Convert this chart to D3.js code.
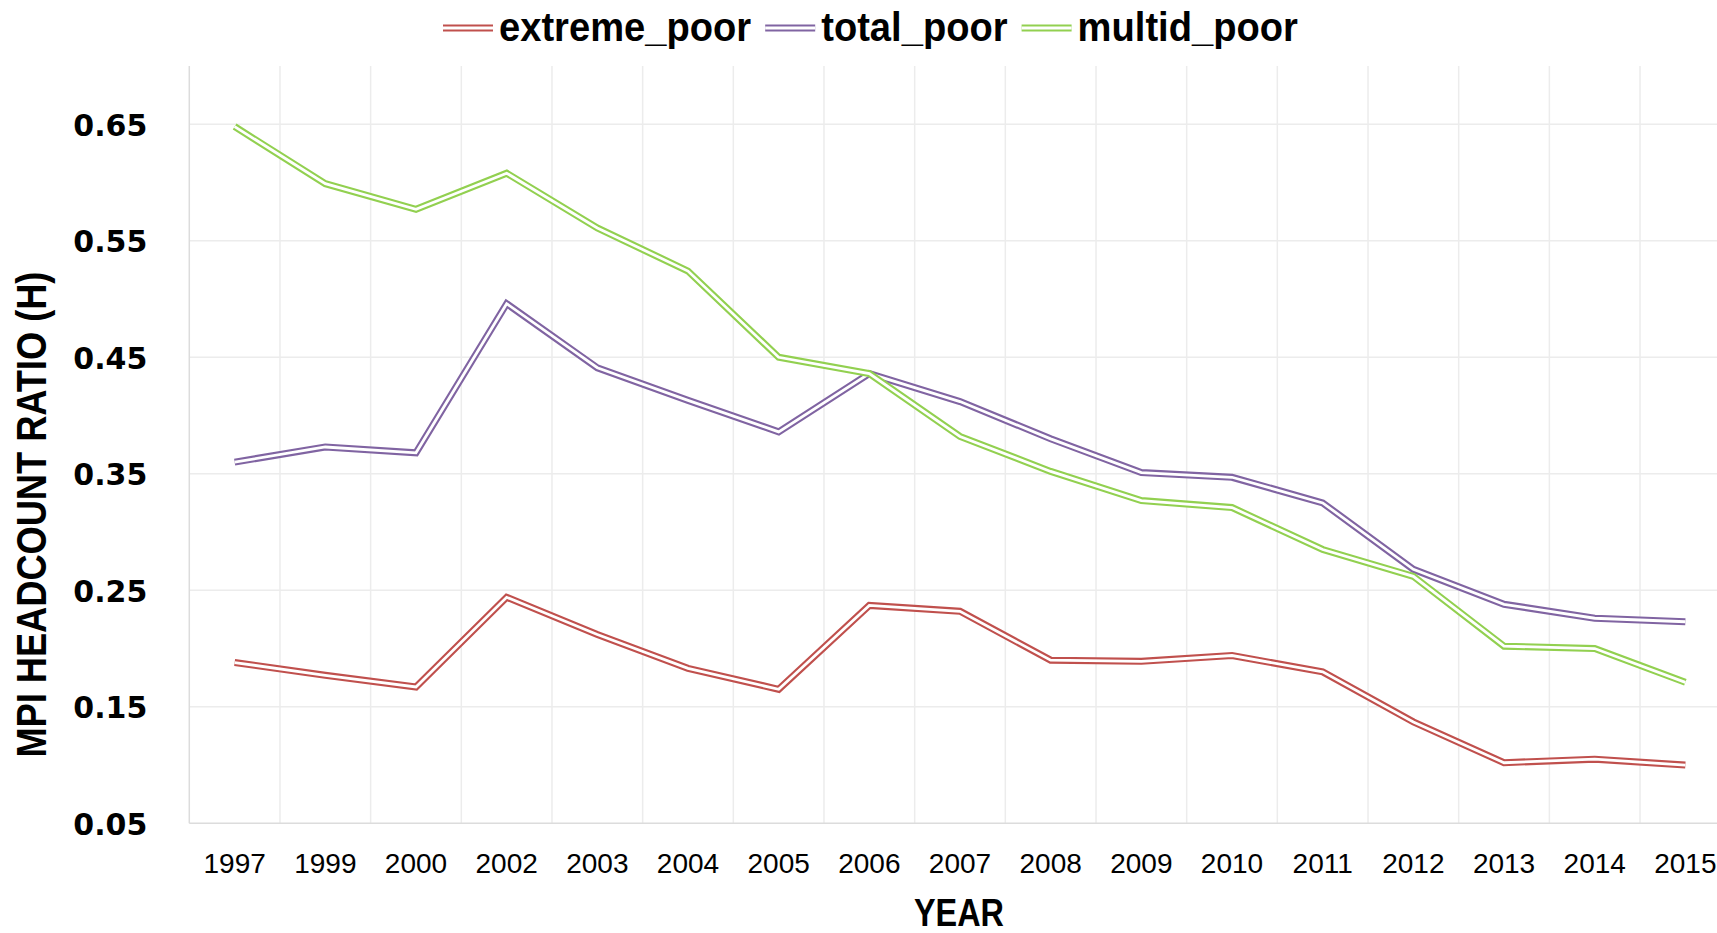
<!DOCTYPE html>
<html>
<head>
<meta charset="utf-8">
<script src="https://cdn.jsdelivr.net/npm/d3@7"></script>
<style>
  body { margin: 0; background: #fff; }
  svg { display: block; }
  .tick-x text { font-family: "Liberation Sans", Arial, sans-serif; font-size: 28px; fill: #000; }
  .tick-y text { font-family: "DejaVu Sans", Verdana, sans-serif; font-weight: bold; font-size: 30px; fill: #000; }
  .axis-title { font-family: "Liberation Sans", Arial, sans-serif; font-weight: bold; fill: #000; }
  .legend-label { font-family: "Liberation Sans", Arial, sans-serif; font-weight: bold; font-size: 41px; fill: #000; }
</style>
</head>
<body>
<svg id="chart" width="1717" height="933"></svg>
<script>
const years = ['1997','1999','2000','2002','2003','2004','2005','2006','2007',
  '2008','2009','2010','2011','2012','2013','2014','2015'];
const extremePoor = [0.188,0.177,0.167,0.244,0.212,0.183,0.165,0.237,0.232,
  0.190,0.189,0.194,0.180,0.137,0.102,0.105,0.100];
const totalPoor = [0.360,0.373,0.368,0.496,0.441,0.413,0.386,0.436,0.412,
  0.380,0.351,0.347,0.325,0.268,0.238,0.226,0.223];
const multidPoor = [0.648,0.599,0.577,0.608,0.561,0.524,0.450,0.436,0.382,
  0.352,0.327,0.321,0.285,0.262,0.202,0.200,0.171];
const yTicks = [0.05,0.15,0.25,0.35,0.45,0.55,0.65];
const seriesNames = ['extreme_poor','total_poor','multid_poor'];
const seriesColors = ['#C0504D','#8064A2','#92D050'];

const svg = d3.select('#chart');
const width = +svg.attr('width');
const height = +svg.attr('height');

const plot = { left: 189.3, right: 1730.7, top: 66, bottom: 823.3 };

const series = seriesNames.map((name, i) => ({
  name: name,
  color: seriesColors[i],
  values: [extremePoor, totalPoor, multidPoor][i].map((v, j) => ({ year: years[j], v: v }))
}));

const xScale = d3.scaleBand()
  .domain(years)
  .range([plot.left, plot.right]);

const yScale = d3.scaleLinear()
  .domain([0.05, 0.70])
  .range([plot.bottom, plot.top]);

// squeeze a text horizontally to mimic a condensed face
const condense = (sel, k) => sel.each(function() {
  const w = this.getComputedTextLength();
  d3.select(this).attr('textLength', w * k).attr('lengthAdjust', 'spacingAndGlyphs');
});

// gridlines
const grid = svg.append('g').attr('stroke', '#ececec').attr('stroke-width', 1.5);

grid.selectAll('.hgrid').data(yTicks.slice(1))
  .enter().append('line')
    .attr('x1', plot.left).attr('x2', width)
    .attr('y1', d => yScale(d)).attr('y2', d => yScale(d));

grid.selectAll('.vgrid').data(years.slice(1))
  .enter().append('line')
    .attr('x1', d => xScale(d)).attr('x2', d => xScale(d))
    .attr('y1', plot.top).attr('y2', plot.bottom);

// axis lines
svg.append('line')
  .attr('x1', plot.left).attr('x2', width)
  .attr('y1', yScale(0.05)).attr('y2', yScale(0.05))
  .attr('stroke', '#dcdcdc').attr('stroke-width', 1.5);
svg.append('line')
  .attr('x1', plot.left).attr('x2', plot.left)
  .attr('y1', plot.top).attr('y2', plot.bottom)
  .attr('stroke', '#dcdcdc').attr('stroke-width', 1.5);

// axes
const yAxis = d3.axisLeft(yScale)
  .tickValues(yTicks)
  .tickFormat(d3.format('.2f'))
  .tickSize(0)
  .tickPadding(42);

const yAxisG = svg.append('g')
  .attr('class', 'tick-y')
  .attr('transform', `translate(${plot.left},0)`)
  .call(yAxis);
yAxisG.select('.domain').remove();
yAxisG.selectAll('text').attr('dy', '0.36em');

const xAxis = d3.axisBottom(xScale).tickSize(0);

const xAxisG = svg.append('g')
  .attr('class', 'tick-x')
  .attr('transform', `translate(0,${plot.bottom})`)
  .call(xAxis);
xAxisG.select('.domain').remove();
xAxisG.selectAll('text').attr('y', 50).attr('dy', 0);

// axis titles
svg.append('text')
  .attr('class', 'axis-title')
  .attr('transform', `translate(46,514.6) rotate(-90)`)
  .attr('text-anchor', 'middle')
  .attr('font-size', 42)
  .attr('textLength', 486)
  .attr('lengthAdjust', 'spacingAndGlyphs')
  .text('MPI HEADCOUNT RATIO (H)');

svg.append('text')
  .attr('class', 'axis-title')
  .attr('x', 959)
  .attr('y', 926)
  .attr('text-anchor', 'middle')
  .attr('font-size', 38)
  .attr('textLength', 90)
  .attr('lengthAdjust', 'spacingAndGlyphs')
  .text('YEAR');

// lines (double stroke)
const lineGenerator = d3.line()
  .x(d => xScale(d.year) + xScale.bandwidth() / 2)
  .y(d => yScale(d.v));

const lines = svg.append('g');
series.forEach(s => {
  lines.append('path')
    .attr('d', lineGenerator(s.values))
    .attr('fill', 'none')
    .attr('stroke', s.color)
    .attr('stroke-width', 7);
  lines.append('path')
    .attr('d', lineGenerator(s.values))
    .attr('fill', 'none')
    .attr('stroke', '#fff')
    .attr('stroke-width', 2.8);
});

// legend
const legend = svg.append('g');
let lx = 443;
const ly = 28;
series.forEach(s => {
  legend.append('line')
    .attr('x1', lx).attr('x2', lx + 50)
    .attr('y1', ly).attr('y2', ly)
    .attr('stroke', s.color).attr('stroke-width', 7);
  legend.append('line')
    .attr('x1', lx).attr('x2', lx + 50)
    .attr('y1', ly).attr('y2', ly)
    .attr('stroke', '#fff').attr('stroke-width', 2.8);
  const t = legend.append('text')
    .attr('class', 'legend-label')
    .attr('x', lx + 56)
    .attr('y', 41)
    .text(s.name)
    .call(condense, 0.93);
  lx += 56 + +t.attr('textLength') + 14;
});
</script>
</body>
</html>
